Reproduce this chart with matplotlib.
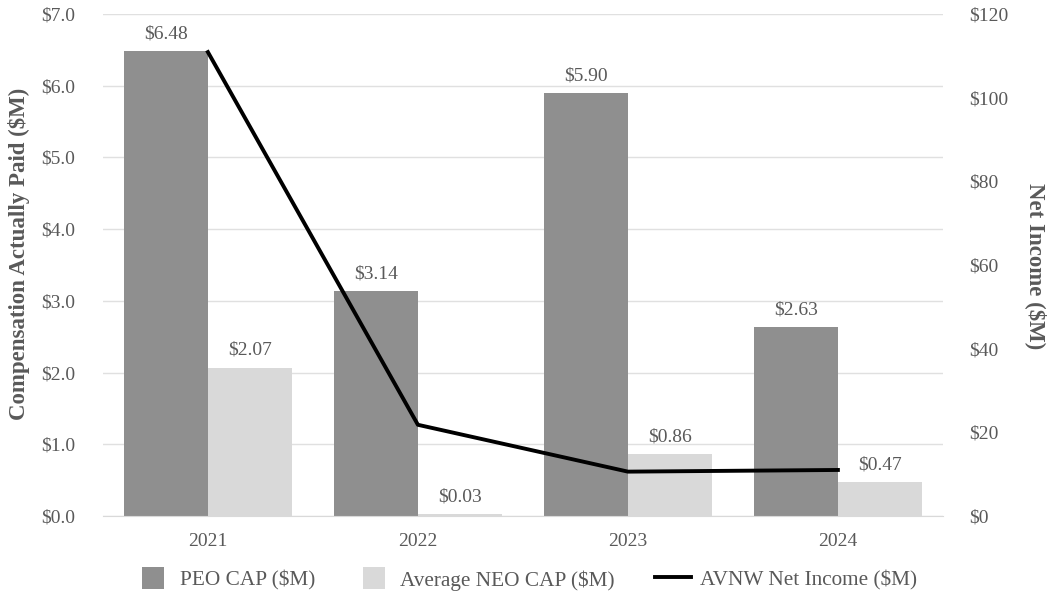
import matplotlib
matplotlib.use("Agg")
import matplotlib.pyplot as plt
import numpy as np
from matplotlib.lines import Line2D
from matplotlib.patches import Patch, Rectangle
from matplotlib.legend_handler import HandlerPatch

years = ["2021", "2022", "2023", "2024"]
peo_cap = [6.48, 3.14, 5.90, 2.63]
neo_cap = [2.07, 0.03, 0.86, 0.47]
net_income = [110.9, 21.8, 10.6, 11.0]
left_ticks = [0, 1, 2, 3, 4, 5, 6, 7]
right_ticks = [0, 20, 40, 60, 80, 100, 120]

plt.rcParams['font.family'] = ['Liberation Serif', 'DejaVu Serif']
gray_txt = "#595959"
peo_col = "#8f8f8f"
neo_col = "#d9d9d9"

fig = plt.figure(figsize=(10.5, 5.99), dpi=100)
ax = fig.add_axes([0.098, 0.1386, 0.800, 0.838])
x = np.arange(len(years))
w = 0.4
ax.bar(x - w/2, peo_cap, w, color=peo_col, zorder=2)
ax.bar(x + w/2, neo_cap, w, color=neo_col, zorder=2)
for xi, v in zip(x - w/2, peo_cap):
    ax.text(xi, v + 0.12, f"${v:.2f}", ha="center", va="bottom", fontsize=14, color=gray_txt)
for xi, v in zip(x + w/2, neo_cap):
    ax.text(xi, v + 0.12, f"${v:.2f}", ha="center", va="bottom", fontsize=14, color=gray_txt)

ax.set_xlim(-0.5, 3.5)
ax.set_ylim(0, 7)
ax.set_yticks(left_ticks)
ax.set_yticklabels([f"${t:.1f}" for t in left_ticks])
ax.set_xticks(x)
ax.set_xticklabels(years)
ax.grid(axis="y", color="#e0e0e0", linewidth=1, zorder=0)
ax.set_axisbelow(True)
for s in ax.spines.values():
    s.set_visible(False)
ax.spines["bottom"].set_visible(True)
ax.spines["bottom"].set_color("#d9d9d9")
ax.tick_params(axis="both", length=0, labelsize=14, labelcolor=gray_txt)
ax.tick_params(axis="y", pad=20)
ax.tick_params(axis="x", pad=12)

ax2 = ax.twinx()
ax2.plot(x, net_income, color="black", linewidth=2.8, zorder=5)
ax2.set_ylim(0, 120)
ax2.set_yticks(right_ticks)
ax2.set_yticklabels([f"${t}" for t in right_ticks])
for s in ax2.spines.values():
    s.set_visible(False)
ax2.tick_params(axis="y", length=0, labelsize=14, labelcolor=gray_txt, pad=19)

fig.text(19/1050, 1 - 254/599, "Compensation Actually Paid ($M)", rotation=90, ha="center", va="center",
         fontsize=16.5, fontweight="bold", color=gray_txt)
fig.text(1036/1050, 1 - 266/599, "Net Income ($M)", rotation=-90, ha="center", va="center",
         fontsize=16.5, fontweight="bold", color=gray_txt)


class SquareHandler(HandlerPatch):
    def create_artists(self, legend, orig_handle, xdescent, ydescent, width, height, fontsize, trans):
        s = 22 * 72 / 100.0
        r = Rectangle((width / 2 - s / 2 - xdescent, height / 2 - s / 2 - ydescent), s, s,
                      facecolor=orig_handle.get_facecolor(), edgecolor="none", transform=trans)
        return [r]


handles = [Patch(facecolor=peo_col, edgecolor="none"),
           Patch(facecolor=neo_col, edgecolor="none"),
           Line2D([0], [0], color="black", linewidth=2.8)]
labels = ["PEO CAP ($M)", "Average NEO CAP ($M)", "AVNW Net Income ($M)"]
leg = fig.legend(handles, labels, loc="center", bbox_to_anchor=(0.501, 0.032), ncol=3,
                 frameon=False, fontsize=15.3, handlelength=1.7, handleheight=1.0,
                 columnspacing=1.9, handletextpad=0.4, handler_map={Patch: SquareHandler()})
for t in leg.get_texts():
    t.set_color(gray_txt)

fig.savefig("out.png", dpi=100)
